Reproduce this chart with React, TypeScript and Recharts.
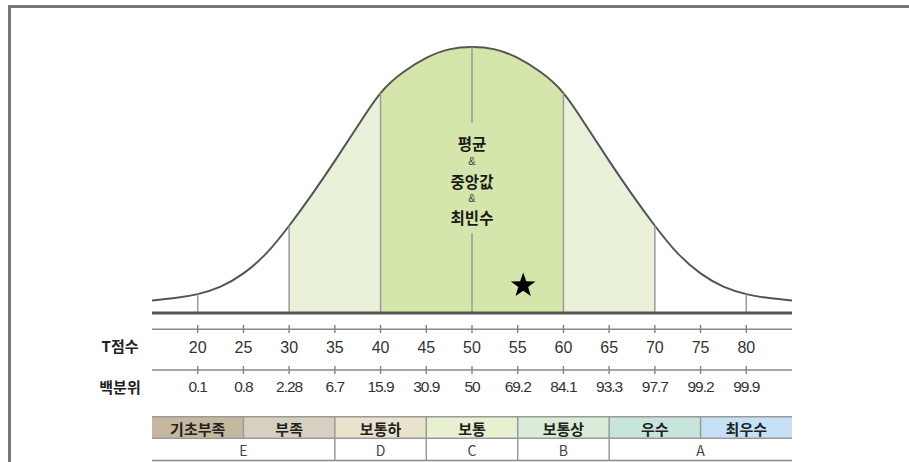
import React from 'react';
import { ComposedChart, Area, XAxis, YAxis, ReferenceLine, ReferenceArea, ReferenceDot } from 'recharts';

// ---------- data ----------
const tScores = [15, 17.5, 20, 22.5, 25, 27.5, 30, 32.5, 35, 37.5, 40, 42.5, 45, 47.5, 50,
  52.5, 55, 57.5, 60, 62.5, 65, 67.5, 70, 72.5, 75, 77.5, 80, 82.5, 85];
const density = [4.7, 5.6, 7.1, 9.9, 14.9, 22.4, 32.8, 44.6, 57.2, 70.3, 82.7, 90.6, 95.9, 99.1, 100,
  99.1, 95.9, 90.6, 82.7, 70.3, 57.2, 44.6, 32.8, 22.4, 14.9, 9.9, 7.1, 5.6, 4.7];
const tTicks = [20, 25, 30, 35, 40, 45, 50, 55, 60, 65, 70, 75, 80];
const percentiles = ['0.1', '0.8', '2.28', '6.7', '15.9', '30.9', '50', '69.2', '84.1', '93.3', '97.7', '99.2', '99.9'];
const dividerTs = [20, 30, 40, 60, 70, 80];
const gradeLabels = ['기초부족', '부족', '보통하', '보통', '보통상', '우수', '최우수'];
const gradeStarts = [15, 25, 35, 45, 55, 65, 75];
const gradeEnds = [25, 35, 45, 55, 65, 75, 85];
const gradeColors = ['#c6b89e', '#d6d0c0', '#e9e2cc', '#e7f0d0', '#d9ecd7', '#c7e4dd', '#c6e1f5'];
const letterLabels = ['E', 'D', 'C', 'B', 'A'];
const letterStarts = [15, 35, 45, 55, 65];
const letterEnds = [35, 45, 55, 65, 85];
const centerLabels = ['평균', '&', '중앙값', '&', '최빈수'];
const meanT = 50;
const starT = 55.6;

const data = tScores.map((t, i) => ({ t, d: density[i] }));
const densityAt = (t: number) => density[tScores.indexOf(t)];

// ---------- layout ----------
const W = 909;
const H = 462;
const PLOT_TOP = 47;
const PLOT_BOTTOM = 313;
const pxToV = (px: number) => ((PLOT_BOTTOM - px) / (PLOT_BOTTOM - PLOT_TOP)) * 100;
const FONT = "'Liberation Sans', 'Noto Sans CJK KR', sans-serif";
const KFONT = "'Noto Sans CJK KR', 'Liberation Sans', sans-serif";

const T_ROW = pxToV(329.3);
const P_ROW = pxToV(370);
const BAND_TOP = pxToV(416.7);
const BAND_MID = pxToV(438.3);
const BAND_BOTTOM = pxToV(460.5);
const GRID = '#9a9a9a';

const TableTick = (props: any) => {
  const { x, y, payload } = props;
  const i = tTicks.indexOf(payload.value);
  return (
    <g>
      <line x1={x} x2={x} y1={y + 12} y2={y + 20} stroke="#888" strokeWidth={1.5} />
      <text x={x} y={y + 34} textAnchor="middle" dominantBaseline="central" fontFamily={FONT} fontSize={16} fill="#333">
        {payload.value}
      </text>
      <line x1={x} x2={x} y1={y + 53} y2={y + 61} stroke="#888" strokeWidth={1.5} />
      <text x={x} y={y + 73} textAnchor="middle" dominantBaseline="central" fontFamily={FONT} fontSize={15.5} letterSpacing={-1} fill="#333">
        {percentiles[i]}
      </text>
    </g>
  );
};

const rowLabel = (text: string, dy: number) => (p: any) => {
  const vb = p.viewBox || {};
  return (
    <text x={vb.x - 32} y={vb.y + dy} textAnchor="middle" dominantBaseline="central" fontFamily={KFONT} fontSize={15} fontWeight={700} fill="#222">
      {text}
    </text>
  );
};

const cellLabel = (text: string, bold: boolean) => (p: any) => {
  const vb = p.viewBox || {};
  return (
    <text x={vb.x + vb.width / 2} y={vb.y + vb.height / 2 + 0.5} textAnchor="middle" dominantBaseline="central"
      fontFamily={KFONT} fontSize={bold ? 15 : 14} fontWeight={bold ? 700 : 400} fill={bold ? '#222' : '#444'}>
      {text}
    </text>
  );
};

const centerText = (p: any) => {
  const vb = p.viewBox || {};
  const cx = vb.x + (vb.width || 0) / 2;
  const cy = vb.y + (vb.height || 0) / 2;
  const offsets = [-38, -19.5, 0, 17.5, 36];
  return (
    <g>
      {centerLabels.map((s, i) => (
        <text key={i} x={cx} y={cy + offsets[i]} textAnchor="middle" dominantBaseline="central" fontFamily={s === '&' ? FONT : KFONT}
          fontSize={s === '&' ? 11 : 15.5} fontWeight={s === '&' ? 400 : 700} fill={s === '&' ? '#444' : '#1a1a1a'}>
          {s}
        </text>
      ))}
    </g>
  );
};

const StarShape = (p: any) => {
  const { cx, cy } = p;
  const R = 13;
  const r = 5.2;
  const pts: string[] = [];
  for (let k = 0; k < 10; k++) {
    const rad = k % 2 === 0 ? R : r;
    const a = -Math.PI / 2 + (k * Math.PI) / 5;
    pts.push(`${cx + rad * Math.cos(a)},${cy + rad * Math.sin(a)}`);
  }
  return <polygon points={pts.join(' ')} fill="#000" />;
};

export default function App() {
  return (
    <div style={{ position: 'absolute', left: 0, top: 0, width: W, height: H, overflow: 'hidden', background: '#fff' }}>
      <div style={{ position: 'absolute', left: 8, top: 5, width: 1200, height: 1200, borderTop: '3px solid #777', borderLeft: '3px solid #777' }} />
      <div style={{ position: 'absolute', left: 0, top: 0 }}>
        <ComposedChart width={W} height={H} data={data} margin={{ top: PLOT_TOP, right: W - 792, left: 152, bottom: H - PLOT_BOTTOM - 30 }}>
          <defs>
            <linearGradient id="bandFill" x1="0" y1="0" x2="1" y2="0">
              <stop offset={(30 - 15) / 70} stopColor="#ffffff" />
              <stop offset={(30 - 15) / 70} stopColor="#e9f2d8" />
              <stop offset={(40 - 15) / 70} stopColor="#e9f2d8" />
              <stop offset={(40 - 15) / 70} stopColor="#d4e6ab" />
              <stop offset={(60 - 15) / 70} stopColor="#d4e6ab" />
              <stop offset={(60 - 15) / 70} stopColor="#e9f2d8" />
              <stop offset={(70 - 15) / 70} stopColor="#e9f2d8" />
              <stop offset={(70 - 15) / 70} stopColor="#ffffff" />
            </linearGradient>
          </defs>
          <XAxis dataKey="t" type="number" domain={[15, 85]} ticks={tTicks} height={30}
            axisLine={{ stroke: '#555', strokeWidth: 3 }} tickLine={false} tickSize={0} tickMargin={0}
            tick={<TableTick />} interval={0} />
          <YAxis type="number" domain={[0, 100]} hide />
          <Area type="natural" dataKey="d" stroke="#555" strokeWidth={2} fill="url(#bandFill)" fillOpacity={1} isAnimationActive={false} dot={false} activeDot={false} />

          {dividerTs.map((t) => (
            <ReferenceLine key={`dv${t}`} segment={[{ x: t, y: 0 }, { x: t, y: densityAt(t) }]} stroke={GRID} strokeWidth={1.5} ifOverflow="visible" />
          ))}
          <ReferenceLine segment={[{ x: meanT, y: densityAt(meanT) }, { x: meanT, y: pxToV(123) }]} stroke={GRID} strokeWidth={1.5} ifOverflow="visible" />
          <ReferenceLine segment={[{ x: meanT, y: pxToV(233) }, { x: meanT, y: 0 }]} stroke={GRID} strokeWidth={1.5} ifOverflow="visible" />
          <ReferenceDot x={meanT} y={pxToV(180.7)} r={0} fill="none" stroke="none" ifOverflow="visible" label={centerText} />
          <ReferenceDot x={starT} y={pxToV(285.5)} ifOverflow="visible" shape={StarShape} />

          <ReferenceLine y={T_ROW} stroke="#888" strokeWidth={1.5} ifOverflow="visible" label={rowLabel('T점수', 16.5)} />
          <ReferenceLine y={P_ROW} stroke="#888" strokeWidth={1.5} ifOverflow="visible" label={rowLabel('백분위', 16)} />

          {gradeLabels.map((g, i) => (
            <ReferenceArea key={`g${i}`} x1={gradeStarts[i]} x2={gradeEnds[i]} y1={BAND_MID} y2={BAND_TOP}
              fill={gradeColors[i]} fillOpacity={1} stroke="none" ifOverflow="visible" label={cellLabel(g, true)} />
          ))}
          {letterLabels.map((g, i) => (
            <ReferenceArea key={`l${i}`} x1={letterStarts[i]} x2={letterEnds[i]} y1={BAND_BOTTOM} y2={BAND_MID}
              fill="#fff" fillOpacity={1} stroke="none" ifOverflow="visible" label={cellLabel(g, false)} />
          ))}
          <ReferenceLine y={BAND_TOP} stroke={GRID} strokeWidth={1.5} ifOverflow="visible" />
          <ReferenceLine y={BAND_MID} stroke={GRID} strokeWidth={1.5} ifOverflow="visible" />
          <ReferenceLine y={BAND_BOTTOM} stroke="#888" strokeWidth={1.5} ifOverflow="visible" />
          {gradeEnds.slice(0, -1).map((t) => (
            <ReferenceLine key={`gs${t}`} segment={[{ x: t, y: BAND_TOP }, { x: t, y: BAND_MID }]} stroke={GRID} strokeWidth={1.5} ifOverflow="visible" />
          ))}
          {letterEnds.slice(0, -1).map((t) => (
            <ReferenceLine key={`ls${t}`} segment={[{ x: t, y: BAND_MID }, { x: t, y: BAND_BOTTOM }]} stroke={GRID} strokeWidth={1.5} ifOverflow="visible" />
          ))}
        </ComposedChart>
      </div>
    </div>
  );
}
